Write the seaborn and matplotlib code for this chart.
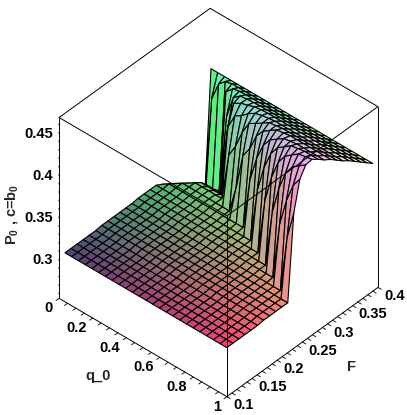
# Maple style surface of P_0 over q_0 and F

import numpy as np
import matplotlib
matplotlib.use("Agg")
import matplotlib.pyplot as plt
from mpl_toolkits.mplot3d import proj3d
import seaborn as sns

sns.set_style("white")
plt.rcParams['font.family'] = ['Liberation Sans', 'DejaVu Sans']
plt.rcParams['mathtext.fontset'] = 'custom'
plt.rcParams['mathtext.bf'] = 'Liberation Sans:bold'

# 1. Values

q_values = [0.035, 0.075, 0.116, 0.156, 0.196, 0.236, 0.276, 0.316, 0.357, 0.397, 0.437, 0.477, 0.518,
            0.558, 0.598, 0.638, 0.678, 0.719, 0.759, 0.799, 0.839, 0.879, 0.920, 0.960, 1.0]
f_values = [0.100, 0.112, 0.124, 0.136, 0.148, 0.161, 0.173, 0.185, 0.197, 0.209, 0.221, 0.233, 0.245,
            0.257, 0.269, 0.281, 0.293, 0.306, 0.318, 0.330, 0.342, 0.354, 0.366, 0.378, 0.390]

# lower level and upper level along F
low_z = [0.313, 0.313, 0.313, 0.313, 0.313, 0.313, 0.314, 0.314, 0.314, 0.314, 0.314, 0.314, 0.315,
         0.315, 0.315, 0.315, 0.316, 0.316, 0.316, 0.316, 0.316, 0.316, 0.316, 0.316, 0.316]
high_z = [0.465, 0.465, 0.465, 0.465, 0.465, 0.465, 0.465, 0.465, 0.465, 0.465, 0.465, 0.465, 0.465,
          0.465, 0.463, 0.458, 0.452, 0.447, 0.441, 0.435, 0.430, 0.424, 0.418, 0.412, 0.406]

# for each q_0 row: last grid column on the lower level, grid position where the wall starts,
# and how fast it climbs
low_end = [15, 16, 17, 18, 18, 18, 18, 18, 17, 17, 17, 16, 16, 15, 15, 14, 14, 13, 13, 12, 12, 11, 11, 10, 10]
wall_start = [23, 22.75, 22.5, 22, 21.25, 20.5, 19.5, 18, 17.5, 17.25, 16.75, 16.25, 16, 15.5, 15, 14.5,
              14, 13.5, 13, 12.5, 12, 11.5, 11, 10.5, 10]
wall_speed = [4, 4, 4, 3, 2.5, 2, 1.5, 1, 1, 1, 1, 1, 1, 1, 1, 1, 1, 1, 1, 1, 1, 1, 1, 1, 1]
# share of the step climbed, per quarter of a grid cell past the start of the wall
wall_share = [0.0, 0.25, 0.45, 0.57, 0.67, 0.74, 0.82, 0.86, 0.90, 0.92, 0.94, 0.96, 0.98, 0.985, 0.99, 0.995, 1.0]
# drop behind the lower level, by cells past its end
dip_z = [0.311, 0.303, 0.295, 0.287, 0.279, 0.272, 0.268, 0.266, 0.265]

q_ticks = [0, 0.2, 0.4, 0.6, 0.8, 1]
f_ticks = [0.1, 0.15, 0.2, 0.25, 0.3, 0.35, 0.4]
z_ticks = [0.3, 0.35, 0.4, 0.45]

q_lim = (0, 1)
f_lim = (0.1, 0.4)
z_lim = (0.255, 0.469)

# 2. Build the surface

z_grid = np.zeros((len(q_values), len(f_values)))
for i in range(len(q_values)):
    for j in range(len(f_values)):
        past = j - wall_start[i]
        if past >= 0:
            step = min(int(round(4 * past * wall_speed[i])), len(wall_share) - 1)
            base = low_z[j]
            z_grid[i, j] = base + wall_share[step] * (high_z[j] - base)
            if step == 0 and j > low_end[i]:
                z_grid[i, j] = dip_z[j - low_end[i] - 1]
        elif j <= low_end[i]:
            z_grid[i, j] = low_z[j]
        else:
            z_grid[i, j] = dip_z[j - low_end[i] - 1]

Q, F = np.meshgrid(q_values, f_values, indexing='ij')

# colour runs with the position, as in the original plot
# a cell takes its colour from one corner, so use the height halfway along the cell
z_cell = z_grid.copy()
z_cell[:, :-1] = 0.5 * (z_grid[:, :-1] + z_grid[:, 1:])
red = np.clip(0.30 + 0.65 * Q, 0, 1)
green = np.clip(0.27 + 2.5 * (F - 0.1), 0, 1)
blue = np.clip(0.45 + 3.2 * (z_cell - 0.313), 0, 1)
colors = np.dstack([red, green, blue])

# 3. Plot

fig = plt.figure(figsize=(4.07, 4.15), dpi=100)
ax = fig.add_axes([9.5 / 407, -0.5 / 415, 1, 1], projection='3d', computed_zorder=False)
ax.set_proj_type('ortho')
ax.view_init(elev=40.6, azim=-48)
ax.set_box_aspect((1, 1, 1.055), zoom=0.95)
ax.set_xlim(q_lim)
ax.set_ylim(f_lim)
ax.set_zlim(z_lim)
ax.set_xticks([])
ax.set_yticks([])
ax.set_zticks([])
ax.set_axis_off()

ax.plot_surface(Q, F, z_grid, facecolors=colors, shade=False, rstride=1, cstride=1,
                edgecolor='black', linewidth=0.8, zorder=1)

# box edges, the three at the back bottom are left out
q0, q1 = q_lim
f0, f1 = f_lim
z0, z1 = z_lim
edges = [((q0, q1), (f0, f0), (z0, z0)), ((q1, q1), (f0, f1), (z0, z0)),
         ((q0, q0), (f0, f0), (z0, z1)), ((q1, q1), (f0, f0), (z0, z1)), ((q1, q1), (f1, f1), (z0, z1)),
         ((q0, q1), (f0, f0), (z1, z1)), ((q1, q1), (f0, f1), (z1, z1)),
         ((q0, q0), (f0, f1), (z1, z1)), ((q0, q1), (f1, f1), (z1, z1))]
for xs, ys, zs in edges:
    ax.plot(xs, ys, zs, color='black', lw=0.7, zorder=3)

# tick marks and labels
for t in np.arange(0, 1.001, 0.05):
    ax.plot((t, t), (f0, f0 - 0.006), (z0, z0), color='black', lw=0.6, zorder=3)
for t in np.arange(0.1, 0.4001, 0.01):
    ax.plot((q1, q1 + 0.02), (t, t), (z0, z0), color='black', lw=0.6, zorder=3)
for t in np.arange(0.26, 0.4651, 0.01):
    ax.plot((q0 - 0.006, q0), (f0 + 0.0015, f0), (t, t), color='black', lw=0.6, zorder=3)


def box_label(x, y, z, text, ha):
    # project the 3d spot first so the label is placed as plain 2d text
    px, py, _ = proj3d.proj_transform(x, y, z, ax.get_proj())
    ax.text2D(px, py, text, transform=ax.transData, ha=ha, va='center', fontweight='bold',
              fontsize=10.5, color='black', zorder=4)


for t in q_ticks:
    box_label(t + 0.0256, f0 - 0.0204, z0, f"{t:g}", 'right')
for t in f_ticks:
    box_label(q1 + 0.06, t - 0.008, z0, f"{t:g}", 'left')
for t in z_ticks:
    box_label(q0 - 0.0196, f0 - 0.0053, t, f"{t:g}", 'right')

text_style = dict(ha='center', va='center', fontweight='bold')
fig.text(98 / 407, 1 - 376 / 415, "q_0", fontsize=10.5, **text_style)
fig.text(351 / 407, 1 - 367 / 415, "F", fontsize=10.5, **text_style)
fig.text(12 / 407, 1 - 214 / 415, r"$\mathbf{P_0}$ , c=$\mathbf{b_0}$", rotation=90, fontsize=10.5, **text_style)

fig.savefig("out.png", dpi=100)
